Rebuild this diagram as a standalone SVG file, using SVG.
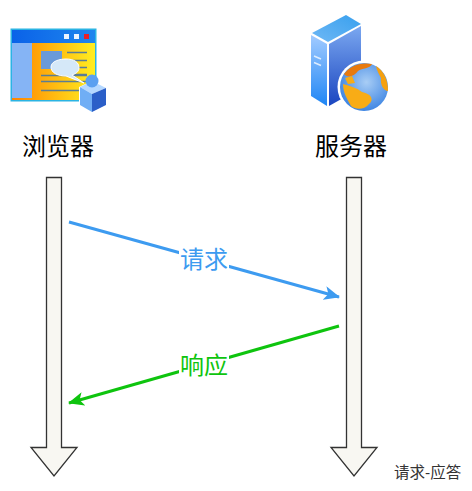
<svg xmlns="http://www.w3.org/2000/svg" width="472" height="491" viewBox="0 0 472 491">
<style>
text{font-family:"Liberation Sans","Noto Sans CJK SC",sans-serif}
.t{font-size:24px;fill:#000;text-anchor:middle}
.life{fill:#f8f7f2;stroke:#333;stroke-width:1.300}
.l{font-size:24px;text-anchor:middle}
</style>
<defs>
<linearGradient id="pg" x1="0" x2="1" y1="0" y2="0"><stop offset="0" stop-color="#ff8400"/><stop offset="1" stop-color="#ffee20"/></linearGradient>
<linearGradient id="bar" x1="0" x2="1"><stop offset="0" stop-color="#0a62e8"/><stop offset="1" stop-color="#1f86ee"/></linearGradient>
<linearGradient id="sl" x1="0" x2="0" y1="0" y2="1"><stop offset="0" stop-color="#a2cbff"/><stop offset="1" stop-color="#1f86f5"/></linearGradient>
<linearGradient id="sf" x1="0" x2="0" y1="0" y2="1"><stop offset="0" stop-color="#7ba8f0"/><stop offset="1" stop-color="#1a45c0"/></linearGradient>
<linearGradient id="st" x1="0" x2="1" y1="1" y2="0"><stop offset="0" stop-color="#6fb8f5"/><stop offset="1" stop-color="#38a0ee"/></linearGradient>
<radialGradient id="gl" cx=".55" cy=".4" r=".7"><stop offset="0" stop-color="#a8cdf5"/><stop offset="1" stop-color="#2d7ae0"/></radialGradient>
<marker id="a1" viewBox="0 0 16 14" refX="15" refY="7" markerWidth="16" markerHeight="14" markerUnits="userSpaceOnUse" orient="auto"><path d="M0 0L16 7L0 14L4 7Z" fill="#3d9bf0"/></marker>
<marker id="a2" viewBox="0 0 16 14" refX="15" refY="7" markerWidth="16" markerHeight="14" markerUnits="userSpaceOnUse" orient="auto"><path d="M0 0L16 7L0 14L4 7Z" fill="#0ec40e"/></marker>
</defs>
<rect width="472" height="491" fill="#fff"/>
<g id="browser">
<rect x="10.500" y="28.500" width="86" height="73" fill="#2bb4e4"/>
<rect x="12" y="30" width="83" height="70" fill="url(#pg)"/>
<rect x="12" y="30" width="83" height="13" fill="url(#bar)"/>
<rect x="12" y="43" width="20" height="55" fill="#85b4f5"/>
<rect x="64" y="34" width="5" height="5" fill="#eef4ff"/>
<rect x="74" y="34" width="5" height="5" fill="#eef4ff"/>
<rect x="84" y="34" width="5" height="5" fill="#e8202a"/>
<rect x="41" y="51" width="21" height="18" fill="#6a9ad8"/>
<path d="M67 52.500H87M67 60.500H87M67 67.500H87M67 74.500H87M41 75.500H87M41 81.500H87M41 90.500H87" stroke="#5a7d95" stroke-width="1.500" fill="none"/>
<path d="M51 67C51 61 60 59 66 59C74 59 79 62 79 68C79 72 75 74 72 75L84 83L66 76C58 76 51 73 51 67Z" fill="#d5e8f8" stroke="#fff" stroke-width="1"/>
<path d="M79 87L92 81L107 88V105L92 113L79 105Z" fill="#fff"/>
<path d="M80 87L92 81L106 88L92 94Z" fill="#b5d8ff"/>
<path d="M80 87L92 94V112L80 105Z" fill="#70aef5"/>
<path d="M92 94L106 88V105L92 112Z" fill="#2b5fc8"/>
<circle cx="92" cy="81" r="6.500" fill="#5ba0f0"/>
</g>
<g id="browser-label"><text class="t" x="58" y="155">浏览器</text></g>
<g id="server">
<path d="M311 33L345 14L362 24L362 27L328 46V107L311 97Z" fill="#fff"/>
<path d="M312 33L346 15L361 24L328 42Z" fill="url(#st)"/>
<path d="M311 35L327 44V106L311 96Z" fill="url(#sl)"/>
<path d="M329 44L361 26V88L329 106Z" fill="url(#sf)"/>
<path d="M314 56L321 59M314 62.500L321 65.500" stroke="#dcecff" stroke-width="1.500"/>
<circle cx="364" cy="87" r="26.500" fill="#fff"/>
<circle cx="364" cy="87" r="24" fill="url(#gl)"/>
<path d="M344 74C350 66 360 62 372 64C370 69 362 68 358 71C354 77 347 78 344 74Z" fill="#e87a0e"/>
<path d="M376 66C384 71 388 80 388 91C384 91 380 85 381 78C379 74 377 71 376 66Z" fill="#f5a010"/>
<path d="M343 84C350 86 357 88 362 92C372 94 374 100 369 104C364 110 356 110 351 106C347 99 343 92 343 84Z" fill="#f8ac16"/>
<path d="M345 78L352 76L355 83L348 84Z" fill="#f8ac16"/>
</g>
<g id="server-label"><text class="t" x="351" y="155">服务器</text></g>
<g id="lifeline-browser"><path class="life" d="M46.500 177.500H61.500V447.500H77L54 476L31 447.500H46.500Z"/></g>
<g id="lifeline-server"><path class="life" d="M346.500 177.500H361.500V447.500H377L354 476L331 447.500H346.500Z"/></g>
<g id="connectors" fill="none" stroke-width="3">
<line x1="69" y1="222" x2="339" y2="297" stroke="#3d9bf0" marker-end="url(#a1)"/>
<line x1="339" y1="326" x2="69" y2="403" stroke="#0ec40e" marker-end="url(#a2)"/>
</g>
<g id="labels">
<rect x="179" y="246" width="50" height="26" fill="#fff"/>
<text class="l" x="204" y="268" fill="#3d9bf0">请求</text>
<rect x="179" y="352" width="50" height="26" fill="#fff"/>
<text class="l" x="204" y="374" fill="#0ec40e">响应</text>
</g>
<text x="394" y="478" font-size="15.500" fill="#333">请求-应答</text>
</svg>
